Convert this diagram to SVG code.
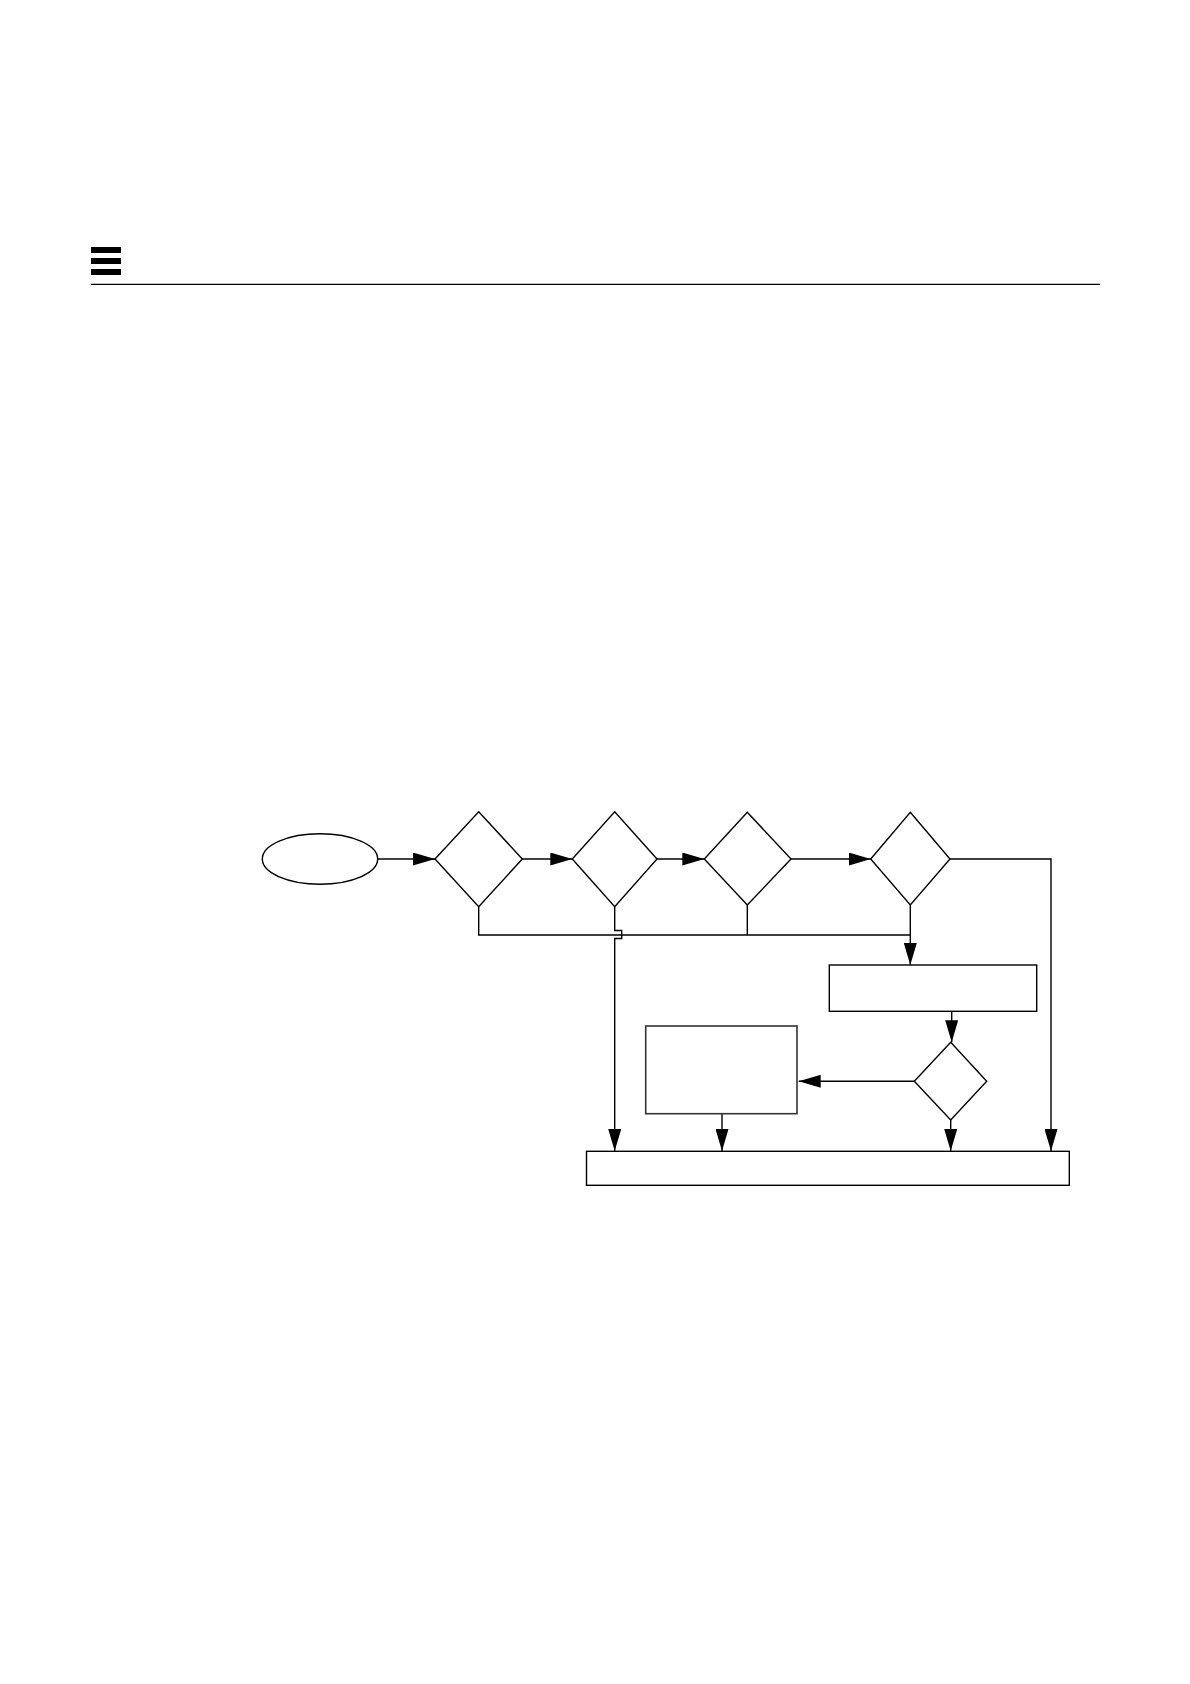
<svg xmlns="http://www.w3.org/2000/svg" width="1190" height="1684" viewBox="0 0 1190 1684">
<style>
.shape{fill:#fff;stroke:#000;stroke-width:1.4}
.conn{fill:none;stroke:#000;stroke-width:1.4}
.rectb{fill:#fff;stroke:#333;stroke-width:1.6}
</style>
<defs>
<marker id="arr" markerUnits="userSpaceOnUse" markerWidth="23" markerHeight="13" refX="22" refY="6.5" orient="auto">
<path d="M0,0 L22,6.5 L0,13 z" fill="#000"/>
</marker>
</defs>
<rect width="1190" height="1684" fill="#fff"/>
<g id="header">
<rect x="91" y="247" width="30" height="6" fill="#000"/>
<rect x="91" y="258" width="30" height="6" fill="#000"/>
<rect x="91" y="269" width="30" height="6" fill="#000"/>
<line x1="91" y1="284.3" x2="1100" y2="284.3" stroke="#000" stroke-width="1.3"/>
</g>
<g id="connectors">
<path class="conn" d="M377.7,859 H435" marker-end="url(#arr)"/>
<path class="conn" d="M522.3,859 H572.3" marker-end="url(#arr)"/>
<path class="conn" d="M657,859 H704.3" marker-end="url(#arr)"/>
<path class="conn" d="M791,859 H870.7" marker-end="url(#arr)"/>
<path class="conn" d="M950,859 H1051 V1151" marker-end="url(#arr)"/>
<path class="conn" d="M478.7,906.7 V935 H910.3"/>
<path class="conn" d="M747.3,905 V935"/>
<path class="conn" d="M910.3,905 V965" marker-end="url(#arr)"/>
<path class="conn" d="M614.7,906.7 V930.5 H621.7 V938.5 H614.7 V1151" marker-end="url(#arr)"/>
<path class="conn" d="M951.7,1011.3 V1042.3" marker-end="url(#arr)"/>
<path class="conn" d="M914.3,1081.3 H798.7" marker-end="url(#arr)"/>
<path class="conn" d="M722,1113.7 V1151" marker-end="url(#arr)"/>
<path class="conn" d="M950.7,1120 V1151" marker-end="url(#arr)"/>
</g>
<g id="start"><ellipse class="shape" cx="320" cy="859" rx="57.7" ry="25.2"/></g>
<g id="d1"><polygon class="shape" points="478.7,811.7 522.3,859 478.7,906.7 435,859"/></g>
<g id="d2"><polygon class="shape" points="614.7,811.7 657,859 614.7,906.7 572.3,859"/></g>
<g id="d3"><polygon class="shape" points="747.3,812.3 791,859 747.3,905 704.3,859"/></g>
<g id="d4"><polygon class="shape" points="910.3,812.3 950,859 910.3,905 870.7,859"/></g>
<g id="rectA"><rect class="shape" x="829.3" y="965" width="207.4" height="46.3"/></g>
<g id="d5"><polygon class="shape" points="950.7,1042.3 986.7,1081.3 950.7,1120 914.3,1081.3"/></g>
<g id="rectB"><rect class="rectb" x="645.7" y="1026" width="151.3" height="87.7"/></g>
<g id="bottom"><rect class="shape" x="586.5" y="1151.3" width="482.8" height="34"/></g>
</svg>
